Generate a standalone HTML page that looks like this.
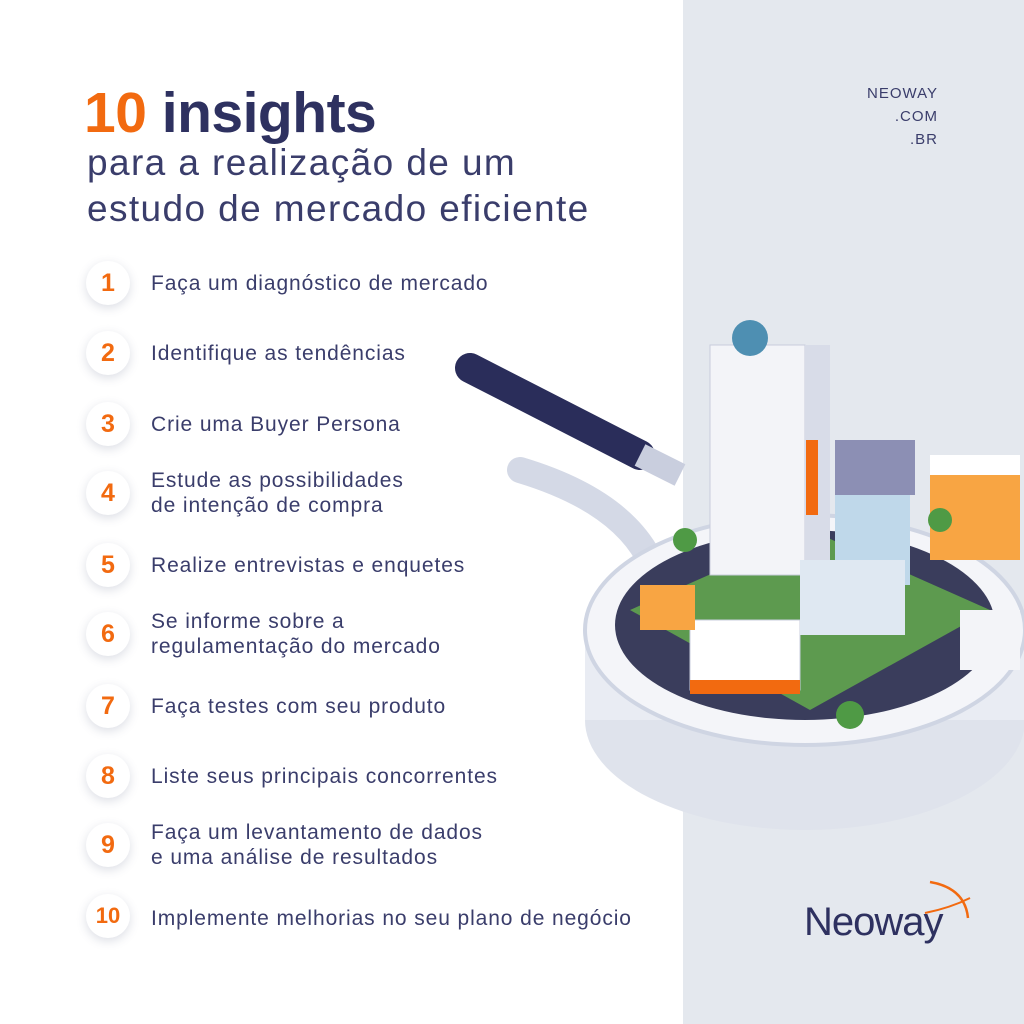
<!DOCTYPE html>
<html><head><meta charset="utf-8"><style>
html,body{margin:0;padding:0}
body{width:1024px;height:1024px;position:relative;overflow:hidden;background:#fff;font-family:"Liberation Sans",sans-serif;color:#2e3160}
.panel{position:absolute;left:683px;top:0;width:341px;height:1024px;background:#e4e8ee}
.t1{position:absolute;left:84px;top:80px;font-size:57px;font-weight:bold;letter-spacing:-0.5px;line-height:66px}
.t1 .o{color:#f26a10}
.sub{position:absolute;left:87px;top:140px;font-size:37px;line-height:46px;color:#3a3d6b;letter-spacing:1.4px}
.item{position:absolute;left:0;width:680px;height:60px}
.num{position:absolute;left:86px;width:44px;height:44px;border-radius:50%;background:#fff;box-shadow:0 3px 10px rgba(60,70,110,.18);color:#f26a10;font-weight:bold;font-size:25px;text-align:center;line-height:44px}
.txt{position:absolute;left:151px;font-size:21px;line-height:25px;color:#3a3d6b;letter-spacing:0.9px}
.url{position:absolute;right:86px;top:82px;text-align:right;font-size:15px;line-height:23px;color:#3a3d6b;letter-spacing:1px}
.logo{position:absolute;left:804px;top:900px;font-size:40px;color:#2e3160;letter-spacing:-1px}
</style></head><body>
<div class="panel"></div>
<div class="t1"><span class="o">10</span> insights</div>
<div class="sub">para a realização de um<br>estudo de mercado eficiente</div>
<div class="url">NEOWAY<br>.COM<br>.BR</div>

<svg style="position:absolute;left:0;top:0" width="1024" height="1024">
<path d="M520 470 Q620 500 650 560" stroke="#d4d9e6" stroke-width="26" fill="none" stroke-linecap="round"/>
<ellipse cx="805" cy="720" rx="220" ry="110" fill="#dfe3ec"/>
<rect x="585" y="630" width="450" height="90" fill="#e9ecf3"/>
<ellipse cx="805" cy="630" rx="220" ry="115" fill="#f4f5f9" stroke="#cfd5e3" stroke-width="4"/>
<ellipse cx="805" cy="625" rx="190" ry="95" fill="#3a3d5c"/>
<path d="M630 610 L810 530 L990 610 L810 710Z" fill="#5d9a4f"/>
<line x1="470" y1="368" x2="640" y2="455" stroke="#2a2d5a" stroke-width="30" stroke-linecap="round"/>
<line x1="640" y1="455" x2="680" y2="475" stroke="#c9cede" stroke-width="24"/>
<rect x="710" y="345" width="95" height="230" fill="#f3f4f8" stroke="#c8cddc"/>
<rect x="805" y="345" width="25" height="230" fill="#d8dce8"/>
<circle cx="750" cy="338" r="18" fill="#4e8fb2"/>
<rect x="806" y="440" width="12" height="75" fill="#f26a10"/>
<rect x="930" y="470" width="90" height="90" fill="#f8a543"/>
<rect x="930" y="455" width="90" height="20" fill="#fff"/>
<rect x="835" y="495" width="75" height="90" fill="#bfd8ea"/>
<rect x="835" y="440" width="80" height="55" fill="#8c8fb4"/>
<rect x="690" y="620" width="110" height="70" fill="#fff" stroke="#c8cddc"/>
<rect x="690" y="680" width="110" height="14" fill="#f26a10"/>
<rect x="640" y="585" width="55" height="45" fill="#f8a543"/>
<rect x="800" y="560" width="105" height="75" fill="#dfe8f2"/>
<rect x="960" y="610" width="60" height="60" fill="#f3f4f8"/>
<circle cx="685" cy="540" r="12" fill="#4f9a45"/>
<circle cx="940" cy="520" r="12" fill="#4f9a45"/>
<circle cx="850" cy="715" r="14" fill="#4f9a45"/>
</svg>

<div class="item" style="top:260px"><div class="num" style="top:1px">1</div><div class="txt" style="top:11px">Faça um diagnóstico de mercado</div></div>
<div class="item" style="top:330px"><div class="num" style="top:1px">2</div><div class="txt" style="top:11px">Identifique as tendências</div></div>
<div class="item" style="top:401px"><div class="num" style="top:1px">3</div><div class="txt" style="top:11px">Crie uma Buyer Persona</div></div>
<div class="item" style="top:470px"><div class="num" style="top:1px">4</div><div class="txt" style="top:-2px">Estude as possibilidades<br>de intenção de compra</div></div>
<div class="item" style="top:542px"><div class="num" style="top:1px">5</div><div class="txt" style="top:11px">Realize entrevistas e enquetes</div></div>
<div class="item" style="top:611px"><div class="num" style="top:1px">6</div><div class="txt" style="top:-2px">Se informe sobre a<br>regulamentação do mercado</div></div>
<div class="item" style="top:683px"><div class="num" style="top:1px">7</div><div class="txt" style="top:11px">Faça testes com seu produto</div></div>
<div class="item" style="top:753px"><div class="num" style="top:1px">8</div><div class="txt" style="top:11px">Liste seus principais concorrentes</div></div>
<div class="item" style="top:822px"><div class="num" style="top:1px">9</div><div class="txt" style="top:-2px">Faça um levantamento de dados<br>e uma análise de resultados</div></div>
<div class="item" style="top:893px"><div class="num" style="top:1px;font-size:22px">10</div><div class="txt" style="top:13px">Implemente melhorias no seu plano de negócio</div></div>

<div class="logo">Neoway</div>
<svg style="position:absolute;left:920px;top:878px" width="55" height="45">
<path d="M10 4 Q45 10 48 40" stroke="#f26a10" stroke-width="2.5" fill="none"/>
<path d="M5 35 Q30 30 50 20" stroke="#f26a10" stroke-width="2" fill="none"/>
</svg>
</body></html>
